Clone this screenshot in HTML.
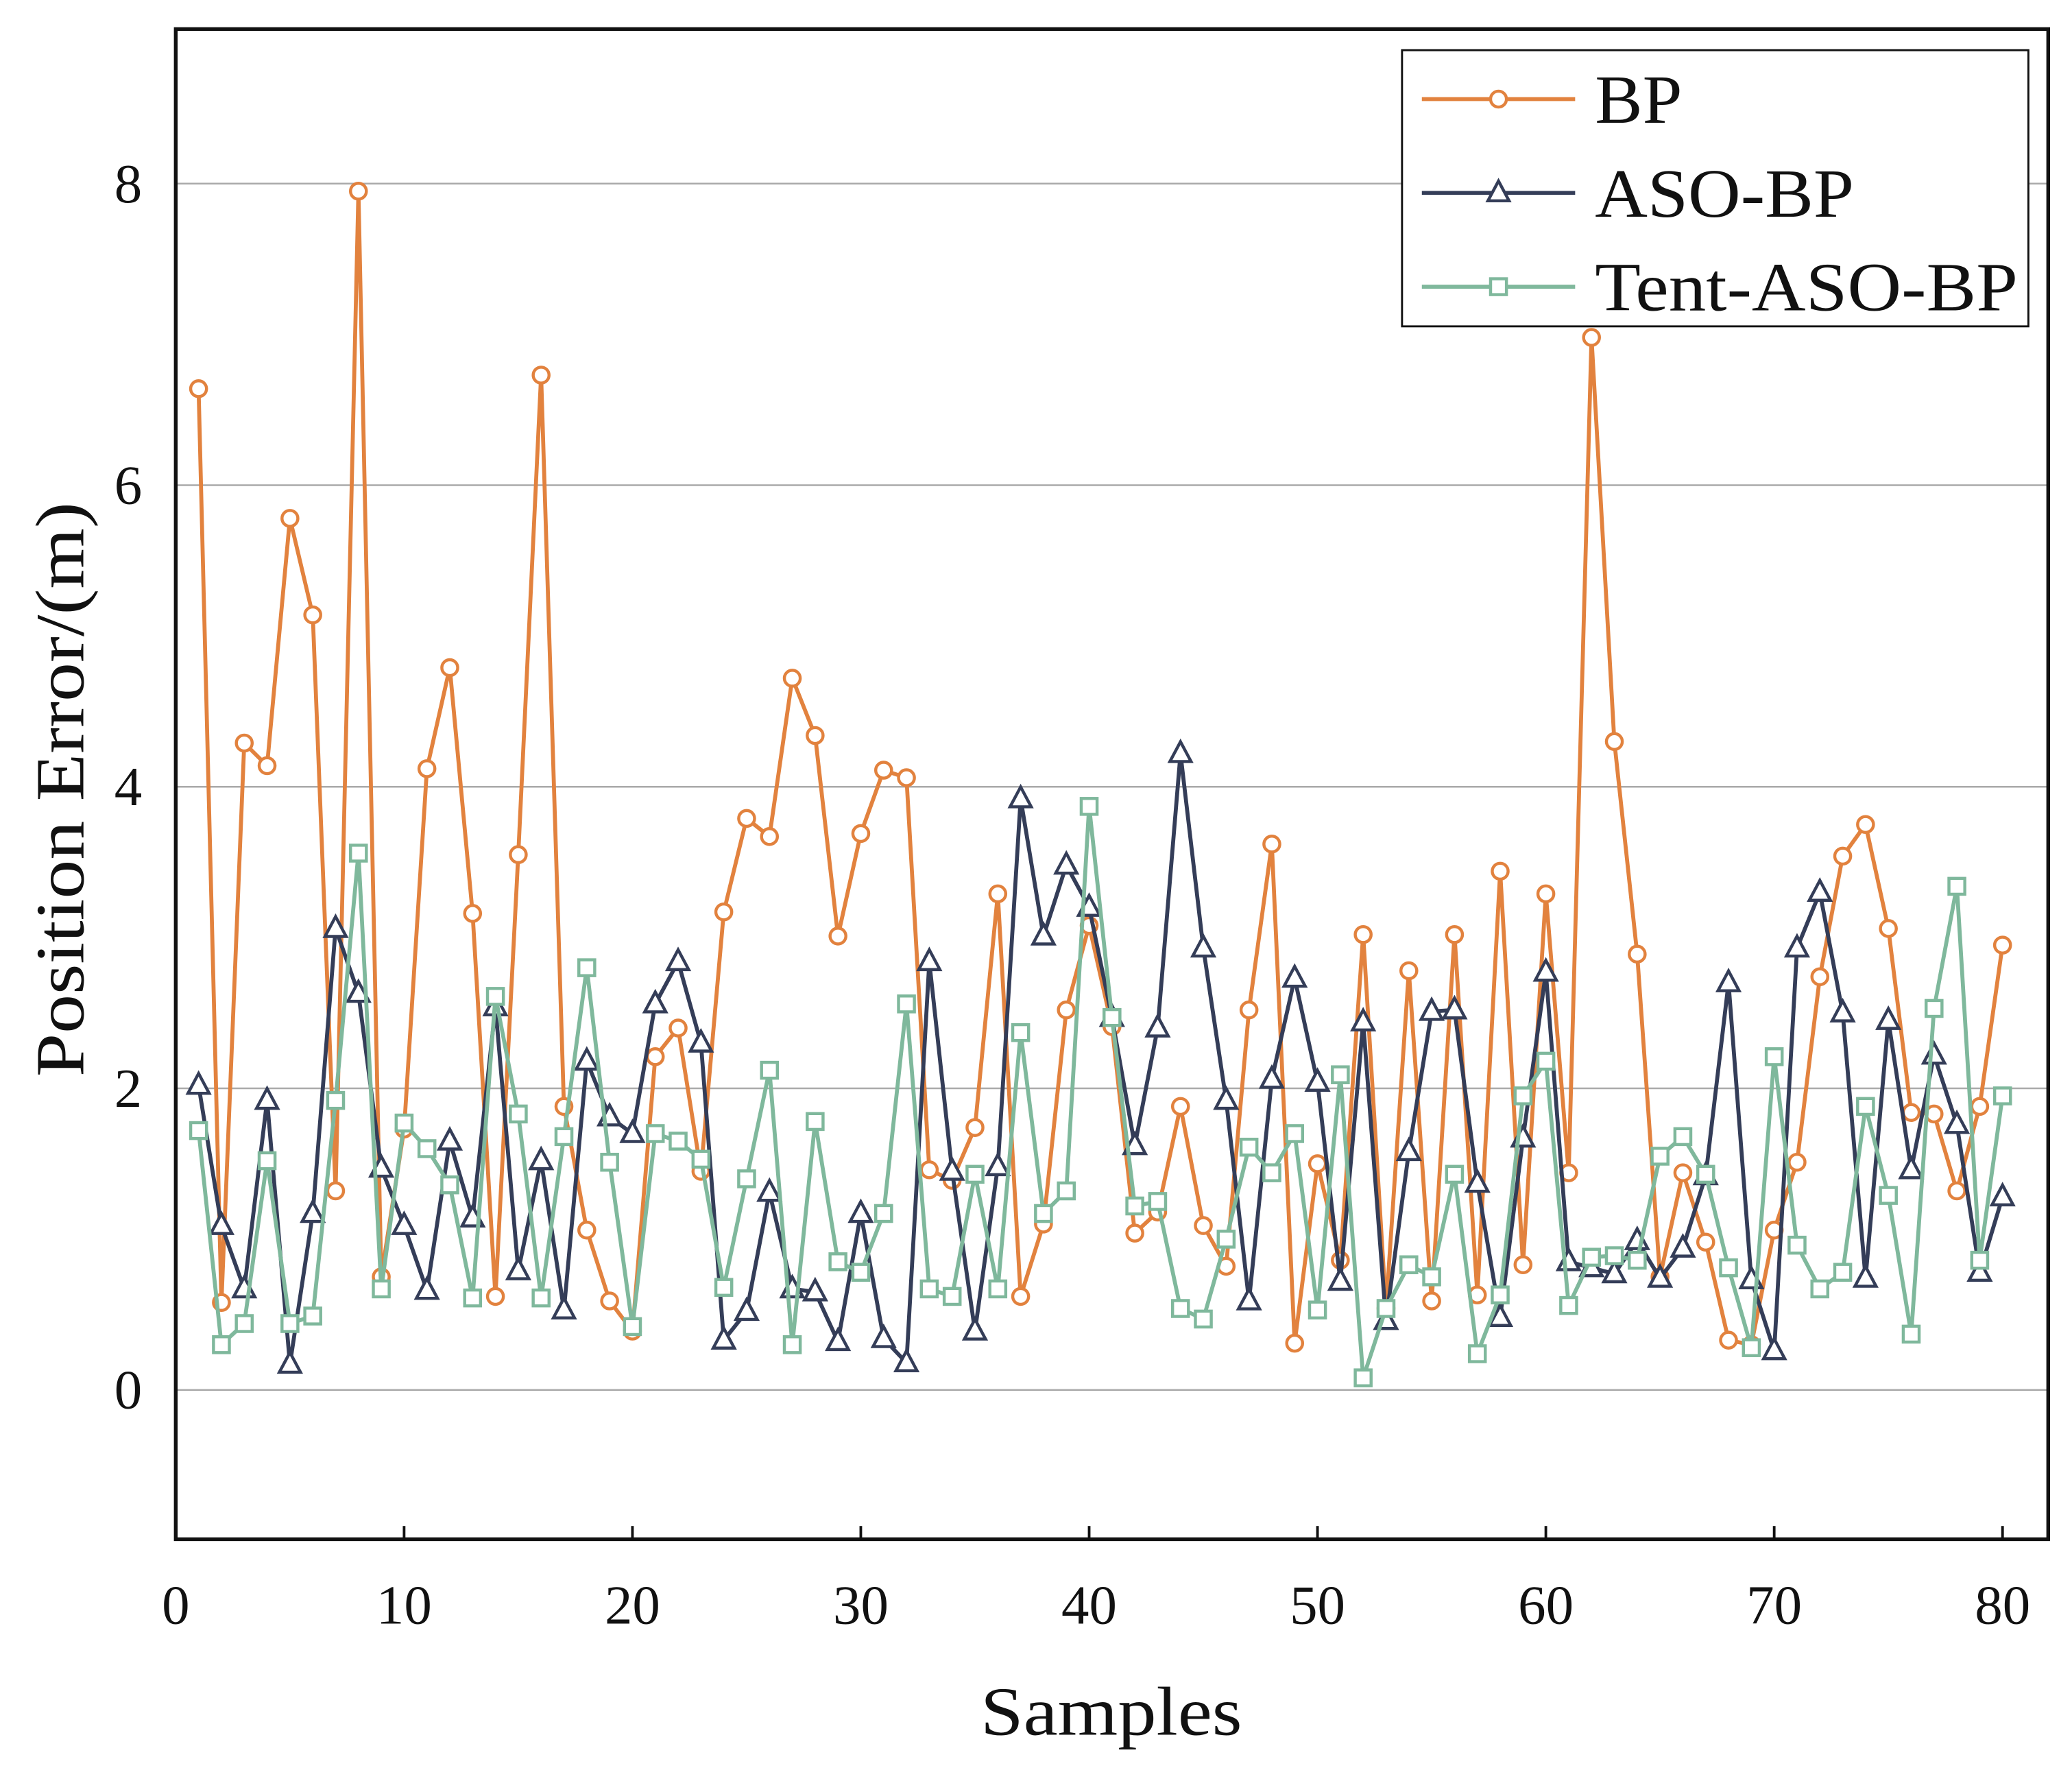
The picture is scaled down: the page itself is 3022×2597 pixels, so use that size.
<!DOCTYPE html>
<html><head><meta charset="utf-8"><style>
html,body{margin:0;padding:0;background:#fff}
svg{display:block}
text{font-family:"Liberation Serif",serif;fill:#111}
</style></head><body>
<svg id="chart" width="3022" height="2597" viewBox="0 0 1568 1348" preserveAspectRatio="none" xmlns="http://www.w3.org/2000/svg">
<g id="grid"></g>
<g id="series"></g>
<rect x="133" y="22" width="1417" height="1143" fill="none" stroke="#111" stroke-width="2.8"/>
<g id="axes"></g>
<text x="742" y="1313" font-size="52" textLength="198" lengthAdjust="spacingAndGlyphs">Samples</text>
<text transform="translate(63,815) rotate(-90)" font-size="52" textLength="435" lengthAdjust="spacingAndGlyphs">Position Error/(m)</text>
<g id="legend">
<rect x="1061" y="38" width="474" height="209" fill="#fff" stroke="#111" stroke-width="1.5"/>
</g>
</svg>
<script>
const bpValues=[6.64,0.58,4.29,4.14,5.78,5.14,1.32,7.95,0.75,1.73,4.12,4.79,3.16,0.62,3.55,6.73,1.88,1.06,0.59,0.39,2.21,2.40,1.45,3.17,3.79,3.67,4.72,4.34,3.01,3.69,4.11,4.06,1.46,1.39,1.74,3.29,0.62,1.10,2.52,3.08,2.41,1.04,1.18,1.88,1.09,0.82,2.52,3.62,0.31,1.50,0.86,3.02,0.54,2.78,0.59,3.02,0.63,3.44,0.83,3.29,1.44,6.98,4.30,2.89,0.75,1.44,0.98,0.33,0.30,1.06,1.51,2.74,3.54,3.75,3.06,1.84,1.83,1.32,1.88,2.95];
const asoValues=[2.02,1.09,0.67,1.92,0.17,1.17,3.06,2.63,1.47,1.09,0.66,1.65,1.14,2.54,0.79,1.52,0.53,2.18,1.81,1.70,2.56,2.84,2.30,0.33,0.52,1.31,0.67,0.65,0.32,1.17,0.34,0.18,2.84,1.45,0.39,1.48,3.92,3.01,3.48,3.20,2.47,1.62,2.40,4.22,2.93,1.92,0.59,2.06,2.73,2.04,0.72,2.44,0.46,1.58,2.51,2.52,1.37,0.48,1.67,2.77,0.85,0.81,0.77,0.99,0.74,0.94,1.42,2.70,0.73,0.26,2.93,3.30,2.50,0.74,2.45,1.46,2.22,1.76,0.78,1.28];
const tentValues=[1.72,0.30,0.44,1.52,0.44,0.49,1.92,3.56,0.67,1.77,1.60,1.36,0.61,2.61,1.83,0.61,1.68,2.80,1.51,0.42,1.70,1.65,1.53,0.68,1.40,2.12,0.30,1.78,0.85,0.78,1.17,2.56,0.67,0.62,1.43,0.67,2.37,1.17,1.32,3.87,2.47,1.22,1.25,0.54,0.47,1.00,1.61,1.44,1.70,0.53,2.09,0.08,0.54,0.83,0.75,1.43,0.24,0.63,1.95,2.18,0.56,0.88,0.89,0.86,1.55,1.68,1.43,0.81,0.28,2.21,0.96,0.67,0.78,1.88,1.29,0.37,2.53,3.34,0.86,1.95];
const xTicks=[0,10,20,30,40,50,60,70,80];
const yTicks=[0,2,4,6,8];
const seriesNames=["BP","ASO-BP","Tent-ASO-BP"];

const NS="http://www.w3.org/2000/svg";
const L=133,R=1550,T=22,B=1165;
const xs=v=>L+(v-0)/(82-0)*(R-L);
const ys=v=>1052-v*(1052-139)/8;
function mk(tag,attrs,parent){const e=document.createElementNS(NS,tag);for(const k in attrs)e.setAttribute(k,attrs[k]);parent.appendChild(e);return e;}
const grid=document.getElementById('grid'),axes=document.getElementById('axes'),ser=document.getElementById('series'),leg=document.getElementById('legend');
yTicks.forEach(t=>{
  const g=mk('line',{x1:L,x2:R,y1:ys(t),y2:ys(t),stroke:'#aaa','stroke-width':1.3},grid);
  
  
  const tx=mk('text',{x:97,y:ys(t)+14,'font-size':42,'text-anchor':'middle'},axes);
  tx.textContent=t;
  
  
});
xTicks.forEach(t=>{
  const tk=mk('line',{x1:xs(t),x2:xs(t),y1:B,y2:B-10,stroke:'#111','stroke-width':2},axes);
  
  
  const tx=mk('text',{x:xs(t),y:B+64,'font-size':42,'text-anchor':'middle'},axes);
  tx.textContent=t;
  
  
});
const colors=['#e2823e','#343d58','#7fb89c'];
function marker(type,x,y,c,parent){
  let e;
  if(type===0)e=mk('circle',{cx:x,cy:y,r:6,fill:'#fff',stroke:c,'stroke-width':2.3},parent);
  else if(type===1)e=mk('polygon',{points:`${x},${y-9} ${x-8},${y+6} ${x+8},${y+6}`,fill:'#fff',stroke:c,'stroke-width':2.3},parent);
  else e=mk('rect',{x:x-6,y:y-6,width:12,height:12,fill:'#fff',stroke:c,'stroke-width':2.3},parent);
  return e;
}
[bpValues,asoValues,tentValues].forEach((vals,si)=>{
  const g=mk('g',{},ser);
  
  
  const pts=vals.map((v,i)=>xs(i+1)+','+ys(v)).join(' ');
  const pl=mk('polyline',{points:pts,fill:'none',stroke:colors[si],'stroke-width':3,'stroke-linejoin':'round'},g);
  
  
  vals.forEach((v,i)=>{
    const m=marker(si,xs(i+1),ys(v),colors[si],g);
    
    
  });
});
const legLens=[66,196,320];
seriesNames.forEach((n,i)=>{
  const y=75+i*71;
  const ln=mk('line',{x1:1076,x2:1192,y1:y,y2:y,stroke:colors[i],'stroke-width':3},leg);
  
  
  const m=marker(i,1134,y,colors[i],leg);
  
  
  const tx=mk('text',{x:1207,y:y+18,'font-size':52,textLength:legLens[i],lengthAdjust:'spacingAndGlyphs'},leg);
  tx.textContent=n;
  
  
});
</script>
</body></html>
